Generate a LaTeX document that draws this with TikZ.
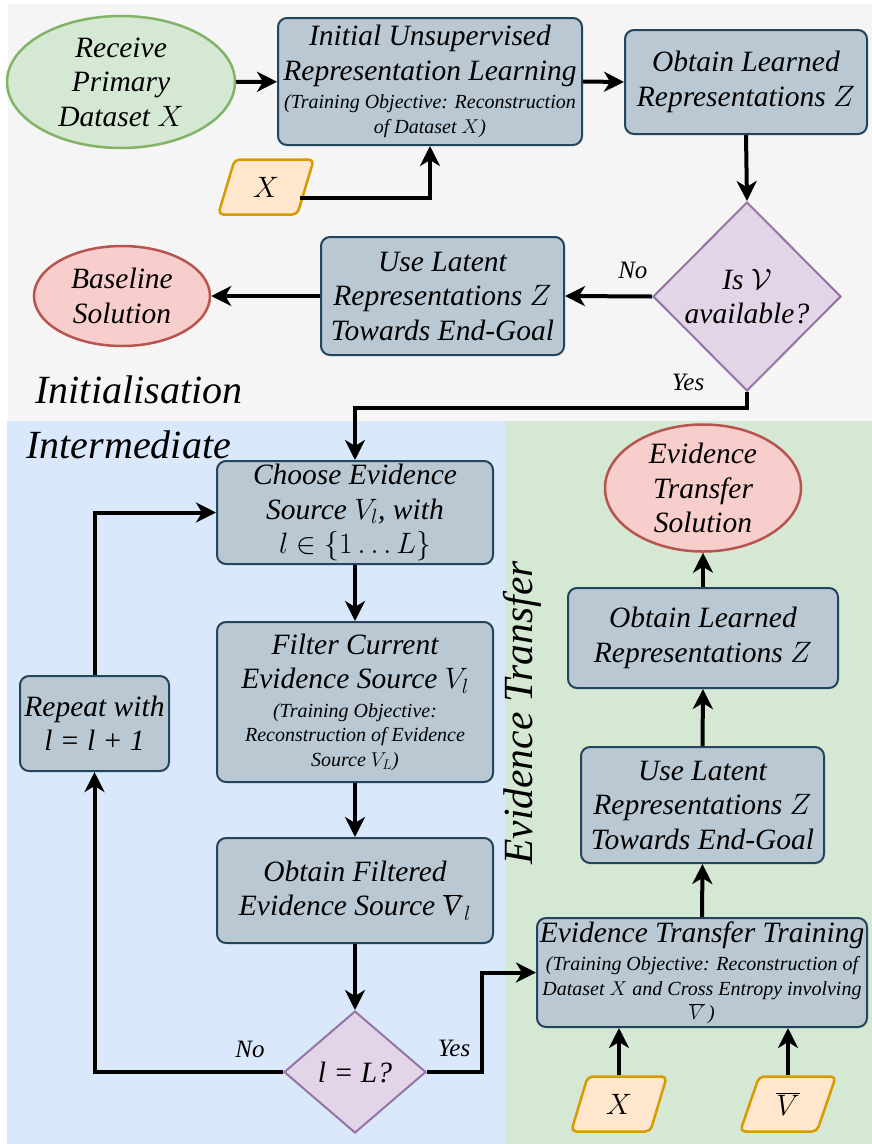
\RequirePackage{fix-cm}
\documentclass[tikz,border=0pt]{standalone}
\usepackage{fontspec}
\setmainfont{Liberation Serif}
\newfontfamily\diafont{Liberation Serif}
\usetikzlibrary{shapes.geometric,arrows.meta,calc}

\definecolor{boxfill}{HTML}{BAC8D3}
\definecolor{boxline}{HTML}{23445D}
\definecolor{startfill}{HTML}{D5E8D4}
\definecolor{startline}{HTML}{82B366}
\definecolor{endfill}{HTML}{F8CECC}
\definecolor{endline}{HTML}{B85450}
\definecolor{decfill}{HTML}{E1D5E7}
\definecolor{decline}{HTML}{9673A6}
\definecolor{iofill}{HTML}{FFE6CC}
\definecolor{ioline}{HTML}{D79B00}
\definecolor{bggrey}{HTML}{F5F5F5}
\definecolor{bgblue}{HTML}{DAE8FC}
\definecolor{bggreen}{HTML}{D5E8D4}

\newcommand{\smalltxt}{\fontsize{20}{23}\selectfont\diafont\itshape}

\begin{document}
\begin{tikzpicture}[x=1pt,y=-1pt,
  maintxt/.style={font=\diafont\fontsize{29.5}{34.5}\selectfont\itshape},
  proc/.style={draw=boxline, fill=boxfill, line width=2pt, rounded corners=9pt,
    align=center, inner sep=2pt, maintxt},
  terminal/.style={ellipse, line width=2.5pt, align=center, inner sep=0pt, maintxt},
  startnode/.style={terminal, draw=startline, fill=startfill},
  endnode/.style={terminal, draw=endline, fill=endfill},
  decision/.style={diamond, draw=decline, fill=decfill, line width=2pt,
    align=center, inner sep=0pt, maintxt},
  iodata/.style={trapezium, trapezium left angle=71, trapezium right angle=109,
    trapezium stretches=true, draw=ioline, fill=iofill, line width=2.5pt,
    rounded corners=5pt, inner sep=0pt, minimum width=96pt, minimum height=55pt, maintxt},
  arr/.style={line width=4pt, -{Stealth[length=20pt,width=20pt,inset=6pt]}},
  lbl/.style={font=\diafont\fontsize{25}{28}\selectfont\itshape},
  phase/.style={font=\diafont\fontsize{40}{44}\selectfont\itshape}
]
\useasboundingbox (0,0) rectangle (872,1144);

% phase backgrounds
\fill[white] (0,0) rectangle (872,1144);
\fill[bggrey] (8,4) rectangle (872,421);
\fill[bgblue] (7,421) rectangle (505,1144);
\fill[bggreen] (505,421) rectangle (872,1144);

% phase titles
\node[phase, anchor=west] (tinit) at (32,390) {Initialisation};
\node[phase, anchor=west] (tinter) at (23,445) {Intermediate};
\node[phase, font=\diafont\fontsize{41.5}{44}\selectfont\itshape, rotate=90]
  (ttrans) at (522,713) {Evidence Transfer};

% initialisation
\node[startnode, minimum width=228pt, minimum height=132pt] (receive) at (121,82)
  {Receive\\Primary\\Dataset $X$};
\node[proc, minimum width=304pt, minimum height=127pt] (init) at (430,81.5)
  {Initial Unsupervised\\Representation Learning\\[-6pt]
   \smalltxt (Training Objective: Reconstruction\\[-10pt]
   \smalltxt of Dataset $X$)};
\node[proc, minimum width=242pt, minimum height=104pt] (obtainA) at (746,82)
  {Obtain Learned\\Representations $Z$};
\node[iodata] (inX) at (266,187) {$X$};
\node[decision, minimum width=188pt, minimum height=189pt] (isv) at (747,296.5)
  {Is $\mathcal{V}$\\available?};
\node[proc, minimum width=243pt, minimum height=118pt] (useA) at (442.5,296)
  {Use Latent\\Representations $Z$\\Towards End-Goal};
\node[endnode, minimum width=176pt, minimum height=100pt] (baseline) at (122,296)
  {Baseline\\Solution};

% intermediate
\node[proc, minimum width=276pt, minimum height=103pt] (choose) at (355,512.5)
  {Choose Evidence\\Source $V_l$, with\\$l \in \{1\ldots L\}$};
\node[proc, minimum width=276pt, minimum height=160pt] (filter) at (355,702)
  {Filter Current\\Evidence Source $V_l$\\[-6pt]
   \smalltxt (Training Objective:\\[-10pt]
   \smalltxt Reconstruction of Evidence\\[-10pt]
   \smalltxt Source $V_L$)};
\node[proc, minimum width=149pt, minimum height=95pt] (repeat) at (94.5,723.5)
  {Repeat with\\l = l + 1};
\node[proc, minimum width=276pt, minimum height=105pt] (filtered) at (355,890.5)
  {Obtain Filtered\\Evidence Source $\overline{\textrm{\diafont\itshape V}}_{\,l}$};
\node[decision, minimum width=142pt, minimum height=122pt] (last) at (355,1072)
  {l = L?};

% evidence transfer
\node[proc, minimum width=330pt, minimum height=109pt] (train) at (702,972.5)
  {Evidence Transfer Training\\[-6pt]
   \smalltxt (Training Objective: Reconstruction of\\[-10pt]
   \smalltxt Dataset $X$ and Cross Entropy involving\\[-10pt]
   \smalltxt $\overline{V}$\,)};
\node[proc, minimum width=243pt, minimum height=116pt] (useB) at (702.5,805)
  {Use Latent\\Representations $Z$\\Towards End-Goal};
\node[proc, minimum width=270pt, minimum height=100pt] (obtainB) at (703,638)
  {Obtain Learned\\Representations $Z$};
\node[endnode, minimum width=196pt, minimum height=110pt] (etsol) at (703,488)
  {Evidence\\Transfer\\Solution};
\node[iodata] (inXb) at (619,1104) {$X$};
\node[iodata] (inV) at (788,1104) {$\overline{V}$};

% connectors
\draw[arr] (receive) -- (init);
\draw[arr] (init.east) -- (obtainA.west);
\draw[arr] ($(inX.center)+(34,11)$) -| (init.south);
\draw[arr] (obtainA.south) -- (isv.north);
\draw[arr] (isv.west) -- node[lbl, above=12pt, pos=0.22] (noA) {No} (useA.east);
\draw[arr] (useA.west) -- (baseline.east);
\draw[arr] (isv.south) -- ++(0,16) -| (choose.north);
\node[lbl] (yesA) at (688,382) {Yes};

\draw[arr] (choose.south) -- (filter.north);
\draw[arr] (filter.south) -- (filtered.north);
\draw[arr] (filtered.south) -- (last.north);
\draw[arr] (last.west) -| (repeat.south);
\node[lbl] (noB) at (250,1049) {No};
\draw[arr] (repeat.north) |- (choose.west);
\draw[arr] (last.east) -- ++(55,0) |- (train.west);
\node[lbl] (yesB) at (454,1048) {Yes};

\draw[arr] (inXb.north) -- (inXb.north |- train.south);
\draw[arr] (inV.north) -- (inV.north |- train.south);
\draw[arr] (train.north) -- (useB.south);
\draw[arr] (useB.north) -- (obtainB.south);
\draw[arr] (obtainB.north) -- (etsol.south);
\end{tikzpicture}
\end{document}
